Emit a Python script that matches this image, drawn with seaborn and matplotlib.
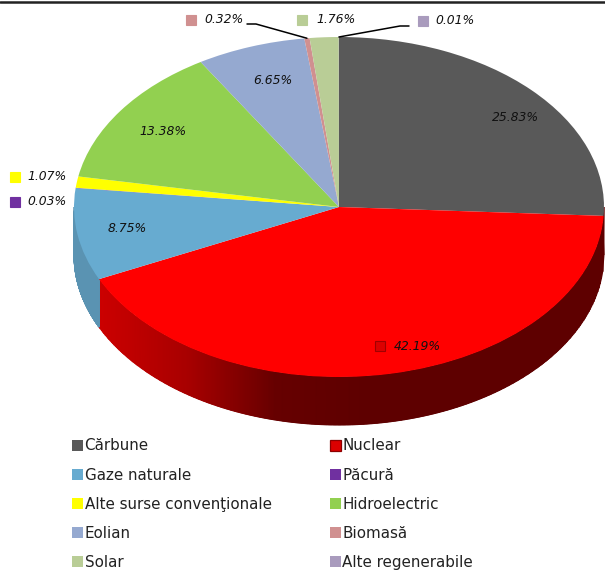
import numpy as np
import matplotlib
matplotlib.use('Agg')
import matplotlib.pyplot as plt
from matplotlib.colors import LinearSegmentedColormap
from matplotlib.patches import Patch
import seaborn as sns

categories = ['Cărbune', 'Nuclear', 'Gaze naturale', 'Păcură', 'Alte surse convenţionale',
              'Hidroelectric', 'Eolian', 'Biomasă', 'Solar', 'Alte regenerabile']
values = [25.83, 42.19, 8.75, 0.03, 1.07, 13.38, 6.65, 0.32, 1.76, 0.01]
colors = ['#595959', '#ff0000', '#67abd0', '#7030a0', '#ffff00',
          '#92d050', '#95a9d0', '#d09090', '#b9cd96', '#a99bbd']

sns.set_theme(style='white')
plt.rcParams['font.family'] = ['DejaVu Sans']

W, H = 605, 570
CX, CY, RX, RY = 339, 207, 265, 170
DEPTH = 48 / RY

fig = plt.figure(figsize=(W / 100, H / 100), dpi=100)
ax = fig.add_axes([0, 0, 1, 1])


# pixel position in the reference -> pie coordinates
def px(x, y):
    return (x - CX) / RX, (CY - y) / RY


# point on the pie edge at a given cumulative percent
def edge(pct):
    a = 2 * np.pi * pct / sum(values)
    return np.sin(a), np.cos(a)


# side of the disc below the lower edge of the ellipse, x0 < x1
def rim(x0, x1, cmap, t0=0.0, t1=1.0):
    xs = np.linspace(x0, x1, 400)
    top = -np.sqrt(np.clip(1 - xs ** 2, 0, 1))
    X = np.vstack([xs, xs])
    Y = np.vstack([top, top - DEPTH])
    C = np.vstack([xs, xs])
    ax.pcolormesh(X, Y, C, shading='gouraud', cmap=cmap, vmin=t0, vmax=t1, zorder=1)


cum = np.cumsum(values)
nuclear_left = edge(cum[1])[0]

red_side = LinearSegmentedColormap.from_list('red_side', ['#cc0000', '#a80000', '#660000', '#5e0000'])
rim(nuclear_left, 1, red_side, nuclear_left, 0.1)
rim(-1, nuclear_left, LinearSegmentedColormap.from_list('blue_side', ['#5a93b2', '#5a93b2']))

wedges, _ = ax.pie(values, colors=colors, startangle=90, counterclock=False, radius=1,
                   wedgeprops={'linewidth': 0})
for w in wedges:
    w.set_zorder(2)
ax.set_aspect('auto')
ax.set_xlim(px(0, 0)[0], px(W, 0)[0])
ax.set_ylim(px(0, H)[1], px(0, 0)[1])
ax.axis('off')

# data labels, with the small key next to some of them
label_pos = [(516, 118), (417, 347), (127, 229), (47, 202), (47, 177),
             (163, 132), (273, 81), (224, 20), (336, 20), (455, 21)]
key_pos = {1: (380, 346), 3: (15, 202), 4: (15, 177), 7: (191, 20), 8: (302, 20), 9: (423, 21)}

for i, (v, pos) in enumerate(zip(values, label_pos)):
    x, y = px(*pos)
    ax.text(x, y, f'{v:.2f}%', ha='center', va='center', style='italic',
            fontsize=8.9, color='#111111', zorder=5)
    if i in key_pos:
        kx, ky = px(*key_pos[i])
        mfc = '#dc0000' if i == 1 else colors[i]
        mec = '#a00000' if i == 1 else colors[i]
        ax.plot(kx, ky, marker='s', ms=6.8, mfc=mfc, mec=mec, mew=0.8, zorder=5)

# leader lines for the two thin slices on top
for i, elbow in [(7, [(247, 24), (256, 24)]), (9, [(409, 26), (400, 26)])]:
    pts = [px(*p) for p in elbow] + [edge(cum[i] - values[i] / 2)]
    ax.plot(*zip(*pts), color='black', lw=1.1, zorder=6)

# top border of the page
fig.add_artist(plt.Line2D([0, 1], [1 - 2 / H, 1 - 2 / H], color='#222222', lw=1.8))

# legend: two columns, filled row by row in the source
handles = []
for i, (name, c) in enumerate(zip(categories, colors)):
    if i == 1:
        handles.append(Patch(facecolor='#dc0000', edgecolor='#8c0000', lw=0.9, label=name))
    else:
        handles.append(Patch(facecolor=c, edgecolor=c, lw=0, label=name))
order = [0, 2, 4, 6, 8, 1, 3, 5, 7, 9]
ax.legend([handles[i] for i in order], [categories[i] for i in order], ncol=2, frameon=False,
          loc='upper left', bbox_to_anchor=(72 / W, 1 - 438.5 / H), bbox_transform=fig.transFigure,
          borderpad=0, borderaxespad=0, fontsize=10.9, handlelength=0.73, handleheight=0.73,
          handletextpad=0.1, labelspacing=0.93, columnspacing=3.85, labelcolor='#222222')

fig.savefig('out.png', dpi=100)
